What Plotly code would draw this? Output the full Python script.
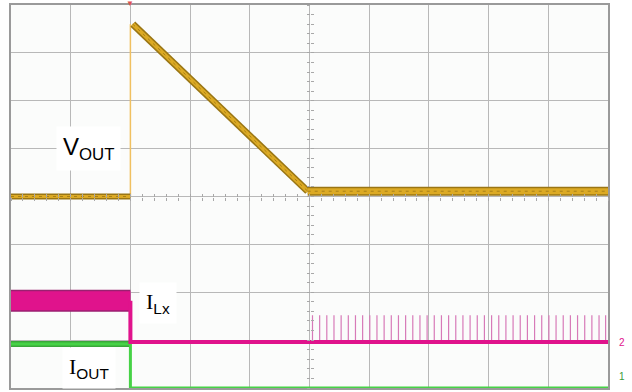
import plotly.graph_objects as go

# oscilloscope capture, units are screen divisions (10 x 8)
vout_t = [0.0, 2.0, 2.0, 2.04, 4.97, 10.0]
vout_v = [4.0, 4.0, 7.6, 7.6, 4.11, 4.11]

ilx_t = [0.0, 2.0, 2.0, 10.0]
ilx_v = [1.82, 1.82, 0.96, 0.96]

iout_t = [0.0, 2.0, 2.0, 10.0]
iout_v = [0.92, 0.92, 0.0, 0.0]

# ILx switching pulses after VOUT settles
pulse_t = [5.05, 5.17, 5.29, 5.41, 5.53, 5.65, 5.77, 5.89, 6.01, 6.13,
           6.25, 6.37, 6.49, 6.61, 6.73, 6.85, 6.97, 7.09, 7.21, 7.33,
           7.45, 7.57, 7.69, 7.81, 7.93, 8.05, 8.17, 8.29, 8.41, 8.53,
           8.65, 8.77, 8.89, 9.01, 9.13, 9.25, 9.37, 9.49, 9.61, 9.73,
           9.85, 9.96]
pulse_top = 1.52

GOLD = "#dcaa24"
GOLD_DARK = "#9a7614"
MAGENTA = "#e0138c"
GREEN = "#46d246"

fig = go.Figure()

# ILx pulses
px, py = [], []
for t in pulse_t:
    px += [t, t, None]
    py += [ilx_v[-1], pulse_top, None]
fig.add_trace(go.Scatter(x=px, y=py, mode="lines",
                         line=dict(color="#d77ab8", width=1.2)))

# IOUT
fig.add_trace(go.Scatter(x=iout_t[:2], y=iout_v[:2], mode="lines",
                         line=dict(color="#3aa83a", width=6)))
fig.add_trace(go.Scatter(x=iout_t, y=iout_v, mode="lines",
                         line=dict(color=GREEN, width=3)))

# ILx
fig.add_trace(go.Scatter(x=ilx_t[:2], y=ilx_v[:2], mode="lines",
                         line=dict(color="#9a2070", width=22)))
fig.add_trace(go.Scatter(x=ilx_t[:2], y=ilx_v[:2], mode="lines",
                         line=dict(color=MAGENTA, width=19)))
fig.add_trace(go.Scatter(x=ilx_t[1:], y=ilx_v[1:], mode="lines",
                         line=dict(color=MAGENTA, width=4)))

# VOUT
fig.add_trace(go.Scatter(x=vout_t[1:3], y=vout_v[1:3], mode="lines",
                         line=dict(color="#f0c060", width=1.5)))
for seg, w in (([0, 1], 6), ([3, 4], 7), ([4, 5], 9)):
    xs = [vout_t[i] for i in seg]
    ys = [vout_v[i] for i in seg]
    fig.add_trace(go.Scatter(x=xs, y=ys, mode="lines",
                             line=dict(color=GOLD_DARK, width=w)))
    fig.add_trace(go.Scatter(x=xs, y=ys, mode="lines",
                             line=dict(color=GOLD, width=w - 3)))
    fig.add_trace(go.Scatter(x=xs, y=ys, mode="lines",
                             line=dict(color="#a88018", width=1, dash="3px,4px")))

# dummy traces so the centre tick axes get drawn
fig.add_trace(go.Scatter(x=[None], y=[None], xaxis="x2", yaxis="y"))
fig.add_trace(go.Scatter(x=[None], y=[None], xaxis="x3", yaxis="y"))
fig.add_trace(go.Scatter(x=[None], y=[None], xaxis="x", yaxis="y2"))
fig.add_trace(go.Scatter(x=[None], y=[None], xaxis="x", yaxis="y3"))

grid = dict(showgrid=True, gridcolor="#b8b8b8", gridwidth=1, dtick=1,
            zeroline=False, showticklabels=False, ticks="",
            showline=True, linecolor="#9a9a9a", linewidth=2, mirror=True)
centre = dict(showgrid=False, zeroline=False, showticklabels=False,
              tickcolor="#a8a8a8", ticklen=3, tickwidth=1, dtick=0.2,
              anchor="free", position=0.5, showline=False)

fig.update_layout(
    width=632, height=392,
    margin=dict(l=11, r=24, t=5, b=4),
    paper_bgcolor="white", plot_bgcolor="#fbfcfb",
    showlegend=False,
    xaxis=dict(range=[0, 10], **grid),
    yaxis=dict(range=[0, 8], **grid),
    xaxis2=dict(range=[0, 10], overlaying="x", ticks="inside", **centre),
    xaxis3=dict(range=[0, 10], overlaying="x", ticks="outside", **centre),
    yaxis2=dict(range=[0, 8], overlaying="y", ticks="inside", **centre),
    yaxis3=dict(range=[0, 8], overlaying="y", ticks="outside", **centre),
    font=dict(family="Liberation Sans", color="black"),
)

serif = "<span style='font-family:Liberation Serif'>I</span>"
labels = [
    (1.3, 5.0, "V<sub>OUT</sub>", 24),
    (2.46, 1.77, serif + "<sub>Lx</sub>", 22),
    (1.3, 0.42, serif + "<sub>OUT</sub>", 22),
]
for x, y, txt, size in labels:
    fig.add_annotation(x=x, y=y, text=txt, showarrow=False,
                       font=dict(size=size), bgcolor="white",
                       borderpad=6)

# trigger marker and channel markers
fig.add_annotation(x=2.0, y=8, text="▼", showarrow=False, yshift=2,
                   font=dict(size=8, color="#e05050"))
fig.add_annotation(x=1.015, xref="paper", y=0.96, text="2", showarrow=False,
                   font=dict(size=10, color=MAGENTA), xanchor="left")
fig.add_annotation(x=1.015, xref="paper", y=0.25, text="1", showarrow=False,
                   font=dict(size=10, color="#3a9a3a"), xanchor="left")

fig.write_html("out.html", config={"displayModeBar": False},
               post_script="document.body.style.margin='0';")
